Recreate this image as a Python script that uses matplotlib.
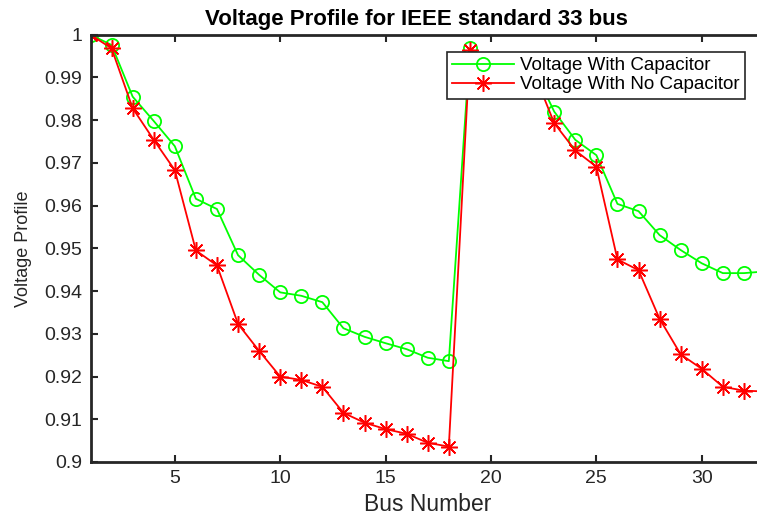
import matplotlib
matplotlib.use("Agg")
import matplotlib.pyplot as plt

bus = list(range(1, 34))
v_cap = [1.0000, 0.9976, 0.9855, 0.9798, 0.9739, 0.9616, 0.9592, 0.9484, 0.9438, 0.9397,
         0.9389, 0.9374, 0.9313, 0.9293, 0.9278, 0.9264, 0.9244, 0.9236, 0.9968, 0.9936,
         0.9929, 0.9923, 0.9820, 0.9754, 0.9718, 0.9604, 0.9587, 0.9531, 0.9496, 0.9465,
         0.9442, 0.9442, 0.9446]
v_nocap = [1.0000, 0.9968, 0.9828, 0.9754, 0.9683, 0.9495, 0.9460, 0.9323, 0.9260, 0.9200,
           0.9192, 0.9176, 0.9115, 0.9092, 0.9077, 0.9066, 0.9045, 0.9036, 0.9965, 0.9929,
           0.9922, 0.9916, 0.9793, 0.9729, 0.9691, 0.9474, 0.9449, 0.9335, 0.9252, 0.9218,
           0.9176, 0.9167, 0.9165]
xticks = [5, 10, 15, 20, 25, 30]
yticks = [0.9, 0.91, 0.92, 0.93, 0.94, 0.95, 0.96, 0.97, 0.98, 0.99, 1.0]
ytick_labels = ["0.9", "0.91", "0.92", "0.93", "0.94", "0.95", "0.96", "0.97", "0.98", "0.99", "1"]

plt.rcParams['font.family'] = ['Liberation Sans', 'DejaVu Sans']
W, H = 757, 516
fig = plt.figure(figsize=(W / 100, H / 100), dpi=100)
ax = fig.add_axes([90.5 / W, 54 / H, 674.5 / W, 427.3 / H])

axc = '#262626'
star = (8, 2, 0)
ax.plot(bus, v_cap, color='#00FF00', lw=1.3, marker='o', ms=9.5, mfc='none', mec='#00FF00',
        mew=1.3, label='Voltage With Capacitor')
ax.plot(bus, v_nocap, color='#FF0000', lw=1.3, marker=star, ms=12, mec='#FF0000',
        mew=1.1, label='Voltage With No Capacitor')

ax.set_xlim(1, 33)
ax.set_ylim(0.9, 1.0)
ax.set_xticks(xticks)
ax.set_yticks(yticks)
ax.set_yticklabels(ytick_labels)
ax.tick_params(direction='in', length=5, width=1.5, color=axc, labelcolor=axc,
               labelsize=14, top=True, right=True, pad=6)
for s in ax.spines.values():
    s.set_linewidth(2)
    s.set_color(axc)

ax.set_xlabel('Bus Number', fontsize=16.5, color=axc, labelpad=4)
ax.set_ylabel('Voltage Profile', fontsize=13, color=axc, labelpad=9)
fig.text(416 / W, 1 - 19 / H, 'Voltage Profile for IEEE standard 33 bus', ha='center',
         va='center', fontsize=16, fontweight='bold', color='black')

leg = ax.legend(loc='upper right', bbox_to_anchor=(745 / W, 1 - 51.5 / H),
                bbox_transform=fig.transFigure, fontsize=13.5, handlelength=3.3,
                fancybox=False, framealpha=1, edgecolor=axc, borderpad=0.3,
                labelspacing=0.1, handletextpad=0.3, borderaxespad=0)
leg.get_frame().set_linewidth(1.2)

fig.savefig('out.png', dpi=100)
